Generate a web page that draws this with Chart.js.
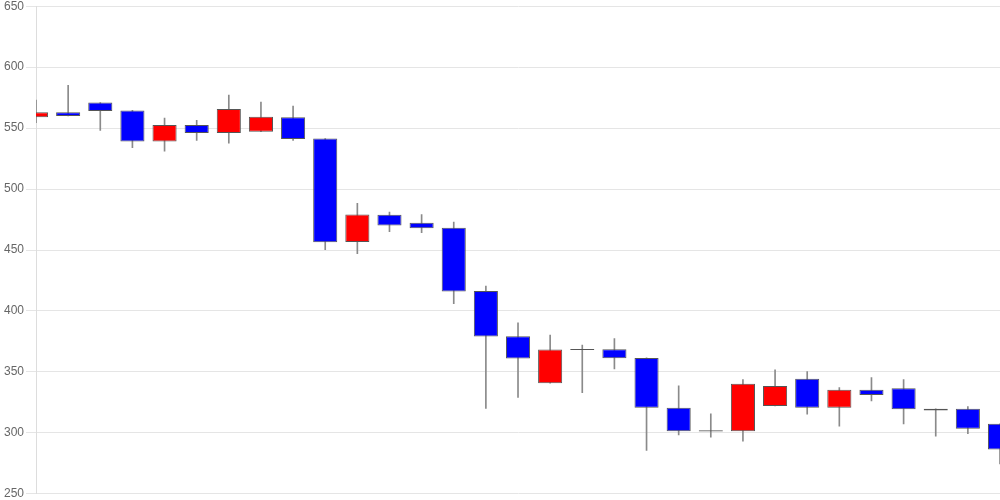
<!DOCTYPE html>
<html>
<head>
<meta charset="utf-8">
<script src="https://cdn.jsdelivr.net/npm/chart.js@4"></script>
<style>
  html, body { margin: 0; padding: 0; background: #fff; }
  #wrap { width: 1000px; height: 500px; position: relative; }
</style>
</head>
<body>
<div id="wrap"><canvas id="candleChart"></canvas></div>
<script>
// one entry per trading day
const days = ['1','2','3','4','5','6','7','8','9','10','11','12','13','14','15','16',
  '17','18','19','20','21','22','23','24','25','26','27','28','29','30','31'];
const opens  = [559, 563, 571, 564.5, 539, 552.5, 546, 547, 559, 541.5, 456.5, 479, 472.4, 468.3, 416.4, 379.2,
  340.7, 368.8, 368.5, 361.5, 320.5, 302.2, 301.4, 322.1, 344.3, 320.5, 335.3, 336.6, 319.7, 319.7, 307.4];
const closes = [563, 560, 564, 539, 552.5, 546, 565.6, 559.3, 541, 456.3, 479.2, 470, 467.8, 415.9, 379, 360.9,
  368.3, 368.0, 361.2, 320.5, 301.4, 301.2, 340.2, 338.5, 320.5, 335.3, 331.1, 319.4, 318.3, 303.3, 286.4];
const highs  = [573, 585, 571, 564.5, 558.2, 556.3, 577, 571.3, 568, 541.5, 488.3, 481.2, 479, 473, 420.5, 390.2,
  380.3, 372.1, 377.3, 361.5, 338.5, 315.6, 343.7, 351.6, 350.3, 337.2, 345.3, 343.7, 319.7, 321.6, 307.4];
const lows   = [554.4, 560, 548, 533.9, 531.1, 539.9, 537.7, 547, 539.9, 450.3, 447, 465, 464.2, 406, 320, 329,
  340.7, 333, 352.5, 285.5, 298.4, 296.4, 293.2, 322, 315.3, 305.5, 326.2, 307.4, 297.3, 299.4, 274.6];
const yTicks = { min: 250, max: 650, step: 50 };

const bodyColors = opens.map((o, i) => (closes[i] >= o ? '#ff0000' : '#0000ff'));

const ctx = document.getElementById('candleChart').getContext('2d');
new Chart(ctx, {
  type: 'bar',
  data: {
    labels: days,
    datasets: [
      {
        label: 'wick',
        data: days.map((d, i) => [lows[i], highs[i]]),
        backgroundColor: '#8a8a8a',
        borderWidth: 0,
        barThickness: 1,
        grouped: false,
        clip: 0,
        order: 2,
      },
      {
        label: 'body',
        data: days.map((d, i) => [opens[i], closes[i]]),
        backgroundColor: bodyColors,
        borderColor: '#555555',
        borderWidth: 1,
        borderSkipped: false,
        barPercentage: 0.75,
        categoryPercentage: 1,
        grouped: false,
        clip: 0,
        order: 1,
      },
    ],
  },
  options: {
    responsive: true,
    maintainAspectRatio: false,
    animation: false,
    layout: { padding: { top: 0, bottom: 0, left: 2, right: 0 } },
    plugins: {
      legend: { display: false },
      tooltip: { enabled: false },
    },
    scales: {
      x: {
        display: false,
        offset: false,
        grid: { display: false },
      },
      y: {
        min: yTicks.min,
        max: yTicks.max,
        border: { color: '#dddddd' },
        grid: { color: '#e5e5e5', tickLength: 10 },
        ticks: {
          stepSize: yTicks.step,
          color: '#666666',
          padding: 2,
          font: { family: '"Liberation Sans", Arial, sans-serif', size: 12, lineHeight: 0.7 },
        },
      },
    },
  },
});
</script>
</body>
</html>
